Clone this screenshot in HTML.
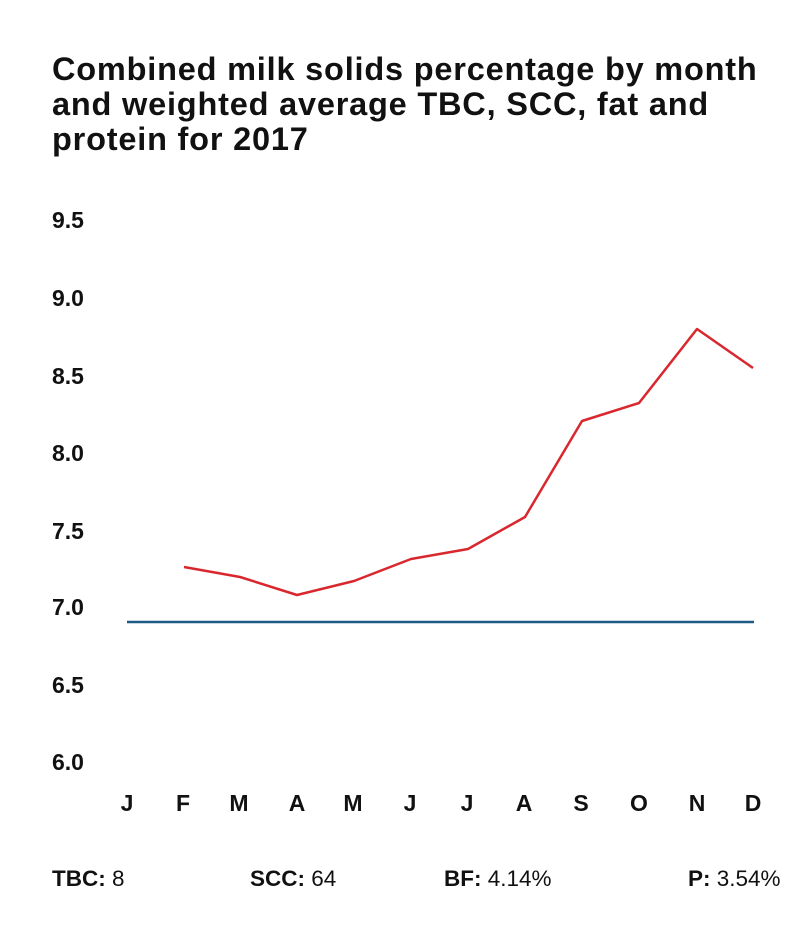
<!DOCTYPE html>
<html><head><meta charset="utf-8"><style>
html,body{margin:0;padding:0;background:#fff;}
body{width:790px;height:926px;position:relative;overflow:hidden;font-family:"Liberation Sans",Arial,sans-serif;color:#111;}
.title{position:absolute;left:52px;top:52px;font-size:32.5px;font-weight:bold;line-height:35px;letter-spacing:0.8px;white-space:nowrap;}
.yl{position:absolute;left:52px;font-size:23px;font-weight:bold;}
.xl{position:absolute;top:790px;font-size:23px;font-weight:bold;width:40px;text-align:center;}
.ft{position:absolute;top:866px;font-size:22.5px;}
.ft b{font-weight:bold;}
</style></head><body>
<div class="title">Combined milk solids percentage by month<br>and weighted average TBC, SCC, fat and<br>protein for 2017</div>
<div class="yl" style="top:207px">9.5</div>
<div class="yl" style="top:285px">9.0</div>
<div class="yl" style="top:363px">8.5</div>
<div class="yl" style="top:440px">8.0</div>
<div class="yl" style="top:518px">7.5</div>
<div class="yl" style="top:594px">7.0</div>
<div class="yl" style="top:672px">6.5</div>
<div class="yl" style="top:749px">6.0</div>
<svg width="790" height="926" style="position:absolute;left:0;top:0">
<line x1="127" y1="622" x2="754" y2="622" stroke="#1d5a85" stroke-width="2.5"/>
<polyline fill="none" stroke="#d9272e" stroke-width="2.5" stroke-linejoin="round" points="184,567 240,577 297,595 354,581 411,559 468,549 525,517 582,421 639,403 697,329 753,368"/>
</svg>
<div class="xl" style="left:107px">J</div>
<div class="xl" style="left:163px">F</div>
<div class="xl" style="left:219px">M</div>
<div class="xl" style="left:277px">A</div>
<div class="xl" style="left:333px">M</div>
<div class="xl" style="left:390px">J</div>
<div class="xl" style="left:447px">J</div>
<div class="xl" style="left:504px">A</div>
<div class="xl" style="left:561px">S</div>
<div class="xl" style="left:619px">O</div>
<div class="xl" style="left:677px">N</div>
<div class="xl" style="left:733px">D</div>
<div class="ft" style="left:52px"><b>TBC:</b> 8</div>
<div class="ft" style="left:250px"><b>SCC:</b> 64</div>
<div class="ft" style="left:444px"><b>BF:</b> 4.14%</div>
<div class="ft" style="left:688px"><b>P:</b> 3.54%</div>
</body></html>
